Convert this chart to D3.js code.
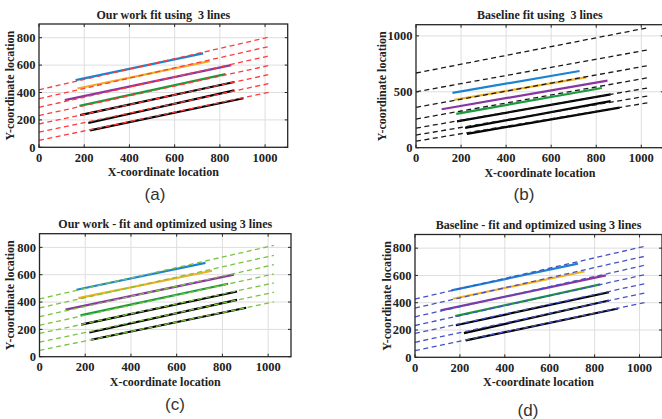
<!DOCTYPE html>
<html>
<head>
<meta charset="utf-8">
<script src="https://cdn.jsdelivr.net/npm/d3@7"></script>
<style>
  body { margin: 0; background: #fff; }
  svg { display: block; }
  text { font-family: "Liberation Serif", "Times New Roman", serif; font-weight: bold; fill: #222; }
  .tag { font-family: "Liberation Sans", Arial, sans-serif; font-weight: normal; fill: #333; }
</style>
</head>
<body>
<script>
// detected line segments (same in every panel)
var segColors = ["#1b84d0", "#f0b020", "#8a35a0", "#1a9a3a", "#000000", "#000000", "#000000"];
var segX0 = [162, 170, 114, 179, 182, 218, 226];
var segY0 = [490, 429, 344, 302, 235, 177, 124];
var segX1 = [726, 755, 850, 825, 864, 864, 904];
var segY1 = [686, 629, 600, 534, 477, 416, 358];

// fitted lines, y at x = 0 and y at the right end
var fitA_y0 = [420, 355, 292, 232, 170, 110, 50];
var fitA_y1 = [805, 737, 668, 598, 532, 466, 402];
var fitB_y0 = [668, 500, 361, 256, 175, 113, 58];
var fitB_y1 = [1073, 875, 734, 626, 535, 463, 402];
var fitC_y0 = [423, 357, 293, 230, 170, 106, 46];
var fitC_y1 = [815, 742, 673, 605, 540, 472, 401];
var fitD_y0 = [427, 361, 297, 233, 175, 110, 49];
var fitD_y1 = [813, 740, 674, 605, 539, 471, 400];
var fitEnd = [1020, 1030, 1025, 1022];

var xTicks = [0, 200, 400, 600, 800, 1000];
var yTicksSmall = [0, 200, 400, 600, 800];
var yTicksBig = [0, 500, 1000];

var titles = [
  "Our work fit using  3 lines",
  "Baseline fit using  3 lines",
  "Our work - fit and optimized using 3 lines",
  "Baseline - fit and optimized using 3 lines"
];
var tags = ["(a)", "(b)", "(c)", "(d)"];

var w = 662, h = 419;
var svg = d3.select("body").append("svg").attr("width", w).attr("height", h);

// panel placement
var panels = [
  {left: 39, right: 287.7, top: 24, bottom: 147.3, yMax: 900, yTicks: yTicksSmall,
   y0: fitA_y0, y1: fitA_y1, fitColor: "#ff3b3b", tagX: 155, tagY: 200, ylabX: 10},
  {left: 416, right: 663.8, top: 24.7, bottom: 147.7, yMax: 1100, yTicks: yTicksBig,
   y0: fitB_y0, y1: fitB_y1, fitColor: "#1a1a1a", tagX: 524, tagY: 200, ylabX: 382},
  {left: 39.5, right: 291, top: 233.7, bottom: 356.7, yMax: 900, yTicks: yTicksSmall,
   y0: fitC_y0, y1: fitC_y1, fitColor: "#7cc242", tagX: 175, tagY: 410, ylabX: 10},
  {left: 415, right: 662, top: 234.5, bottom: 357.3, yMax: 900, yTicks: yTicksSmall,
   y0: fitD_y0, y1: fitD_y1, fitColor: "#4552c4", tagX: 528, tagY: 415.5, ylabX: 387}
];

panels.forEach(function (p, k) {
  var x = d3.scaleLinear().domain([0, 1100]).range([p.left, p.right]);
  var y = d3.scaleLinear().domain([0, p.yMax]).range([p.bottom, p.top]);
  var g = svg.append("g");

  // grid
  g.selectAll(".gx").data(xTicks.slice(1)).enter().append("line")
    .attr("x1", d => x(d)).attr("x2", d => x(d))
    .attr("y1", p.top).attr("y2", p.bottom)
    .attr("stroke", "#dedede").attr("stroke-width", 1);
  g.selectAll(".gy").data(p.yTicks.slice(1)).enter().append("line")
    .attr("x1", p.left).attr("x2", p.right)
    .attr("y1", d => y(d)).attr("y2", d => y(d))
    .attr("stroke", "#dedede").attr("stroke-width", 1);

  // detected segments
  g.selectAll(".seg").data(d3.range(segX0.length)).enter().append("line")
    .attr("x1", i => x(segX0[i])).attr("y1", i => y(segY0[i]))
    .attr("x2", i => x(segX1[i])).attr("y2", i => y(segY1[i]))
    .attr("stroke", i => segColors[i])
    .attr("stroke-width", 2.2);

  // fitted lines
  g.selectAll(".fit").data(d3.range(p.y0.length)).enter().append("line")
    .attr("x1", x(0)).attr("y1", i => y(p.y0[i]))
    .attr("x2", x(fitEnd[k])).attr("y2", i => y(p.y1[i]))
    .attr("stroke", p.fitColor)
    .attr("stroke-width", 1.3)
    .attr("stroke-dasharray", "5,3.5");

  // box
  g.append("rect")
    .attr("x", p.left).attr("y", p.top)
    .attr("width", p.right - p.left).attr("height", p.bottom - p.top)
    .attr("fill", "none").attr("stroke", "#262626").attr("stroke-width", 1.3);

  // inner ticks, all four sides
  xTicks.forEach(function (t) {
    g.append("line").attr("x1", x(t)).attr("x2", x(t)).attr("y1", p.bottom).attr("y2", p.bottom - 3)
      .attr("stroke", "#262626");
    g.append("line").attr("x1", x(t)).attr("x2", x(t)).attr("y1", p.top).attr("y2", p.top + 3)
      .attr("stroke", "#262626");
  });
  p.yTicks.forEach(function (t) {
    g.append("line").attr("x1", p.left).attr("x2", p.left + 3).attr("y1", y(t)).attr("y2", y(t))
      .attr("stroke", "#262626");
    g.append("line").attr("x1", p.right).attr("x2", p.right - 3).attr("y1", y(t)).attr("y2", y(t))
      .attr("stroke", "#262626");
  });

  // tick labels
  g.selectAll(".xl").data(xTicks).enter().append("text")
    .attr("x", d => x(d)).attr("y", p.bottom + 14.5)
    .attr("text-anchor", "middle").attr("font-size", 12.5)
    .text(d => d);
  g.selectAll(".yl").data(p.yTicks).enter().append("text")
    .attr("x", p.left - 3.5).attr("y", d => y(d) + 4.2)
    .attr("text-anchor", "end").attr("font-size", 12.5)
    .text(d => d);

  // axis labels
  g.append("text")
    .attr("x", (p.left + p.right) / 2).attr("y", p.bottom + 29)
    .attr("text-anchor", "middle").attr("font-size", 12)
    .text("X-coordinate location");
  g.append("text")
    .attr("transform", "translate(" + (p.ylabX + 4) + "," + (p.top + p.bottom) / 2 + ") rotate(-90)")
    .attr("text-anchor", "middle").attr("font-size", 12)
    .text("Y-coordinate location");

  // title
  g.append("text")
    .attr("x", (p.left + p.right) / 2).attr("y", p.top - 5.5)
    .attr("text-anchor", "middle").attr("font-size", 12)
    .style("white-space", "pre")
    .text(titles[k]);

  // sub-figure tag
  g.append("text").attr("class", "tag")
    .attr("x", p.tagX).attr("y", p.tagY)
    .attr("text-anchor", "middle").attr("font-size", 17)
    .text(tags[k]);
});
</script>
</body>
</html>
